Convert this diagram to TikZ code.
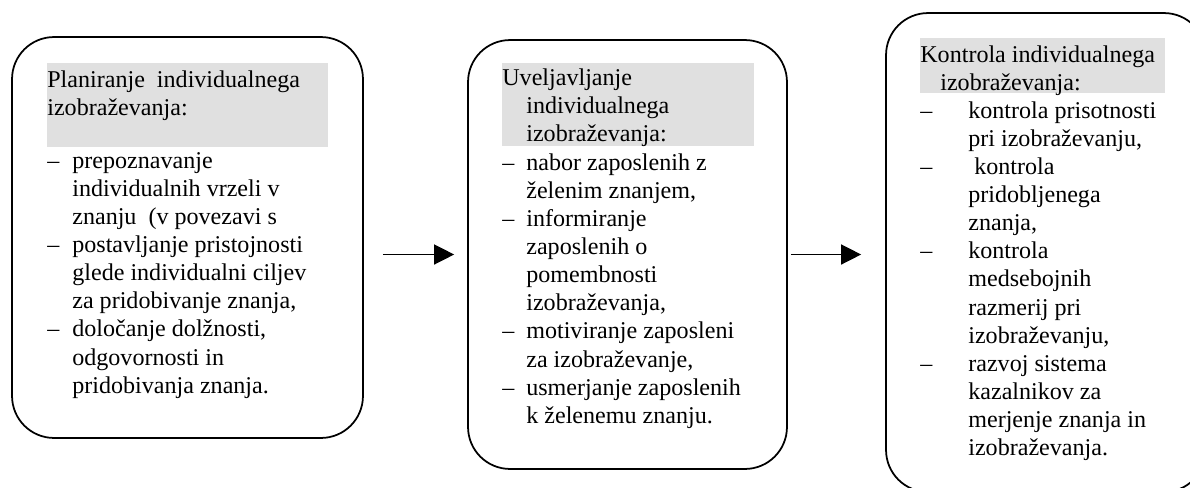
\documentclass[tikz,border=0pt]{standalone}
\usepackage{fontspec}
\setmainfont{Liberation Serif}
\usetikzlibrary{arrows.meta}
\definecolor{colHead}{HTML}{E0E0E0}
\def\boxfont{\fontsize{13.7pt}{16pt}\selectfont}
\newcommand{\itm}[2][0.5cm]{%
  \par\hangindent=#1\hangafter=1\noindent\strut\makebox[#1][l]{\textendash}#2}
\newcommand{\hdtxt}[2][0pt]{%
  \par\hangindent=#1\hangafter=1\noindent\strut#2}
\newcommand{\stagetxt}[1]{%
  \begin{minipage}[t]{6cm}\boxfont #1\par\end{minipage}}
\tikzset{
  stagebox/.style={draw, line width=1pt, rounded corners=0.84cm, inner sep=0pt},
  listtxt/.style={anchor=north west, inner sep=0pt},
  flow/.style={line width=0.8pt, -{Triangle[length=0.4cm, width=0.4cm]}}
}

\begin{document}
\begin{tikzpicture}[x=0.02cm, y=-0.02cm]
\useasboundingbox (0,0) rectangle (1190,487);
\clip (0,0) rectangle (1190,487);

% ===================== LEFT: planiranje =====================
\node[stagebox, minimum width=7.02cm, minimum height=8.02cm] (bxPlan) at (187.5,237.5) {};
\fill[colHead] (47,63) rectangle (328,147);
\node[listtxt] (hdPlan) at (47,67.2)
  {\stagetxt{\hdtxt{Planiranje~ individualnega\newline izobraževanja:}}};
\node[listtxt] (lstPlan) at (47,148.2)
  {\stagetxt{%
   \itm{prepoznavanje\newline individualnih vrzeli v\newline znanju~ (v povezavi s}
   \itm{postavljanje pristojnosti\newline glede individualni ciljev\newline za pridobivanje znanja,}
   \itm{določanje dolžnosti,\newline odgovornosti in\newline pridobivanja znanja.}}};

% ===================== MIDDLE: uveljavljanje =====================
\node[stagebox, minimum width=6.38cm, minimum height=8.58cm] (bxUve) at (627.5,254.5) {};
\fill[colHead] (502,63) rectangle (754,146);
\node[listtxt] (hdUve) at (502,65.2)
  {\stagetxt{\hdtxt[0.48cm]{Uveljavljanje\newline individualnega\newline izobraževanja:}}};
\node[listtxt] (lstUve) at (502,150.2)
  {\stagetxt{%
   \itm[0.48cm]{nabor zaposlenih z\newline želenim znanjem,}
   \itm[0.48cm]{informiranje\newline zaposlenih o\newline pomembnosti\newline izobraževanja,}
   \itm[0.48cm]{motiviranje zaposleni\newline za izobraževanje,}
   \itm[0.48cm]{usmerjanje zaposlenih\newline k želenemu znanju.}}};

% ===================== RIGHT: kontrola =====================
\node[stagebox, minimum width=6.4cm, minimum height=9.58cm] (bxKon) at (1046,252.5) {};
\fill[colHead] (920,38) rectangle (1165,93);
\node[listtxt] (hdKon) at (920,42.2)
  {\stagetxt{\hdtxt[0.4cm]{Kontrola individualnega\newline izobraževanja:}}};
\node[listtxt] (lstKon) at (920,98.2)
  {\stagetxt{%
   \itm[0.96cm]{kontrola prisotnosti\newline pri izobraževanju,}
   \itm[0.96cm]{~kontrola\newline pridobljenega\newline znanja,}
   \itm[0.96cm]{kontrola\newline medsebojnih\newline razmerij pri\newline izobraževanju,}
   \itm[0.96cm]{razvoj sistema\newline kazalnikov za\newline merjenje znanja in\newline izobraževanja.}}};

% ===================== arrows =====================
\draw[flow, shorten <=0.38cm, shorten >=0.26cm] (bxPlan.east |- bxUve.west) -- (bxUve.west);
\draw[flow, shorten <=0.06cm, shorten >=0.48cm] (bxUve.east) -- (bxKon.west |- bxUve.east);

\end{tikzpicture}
\end{document}
